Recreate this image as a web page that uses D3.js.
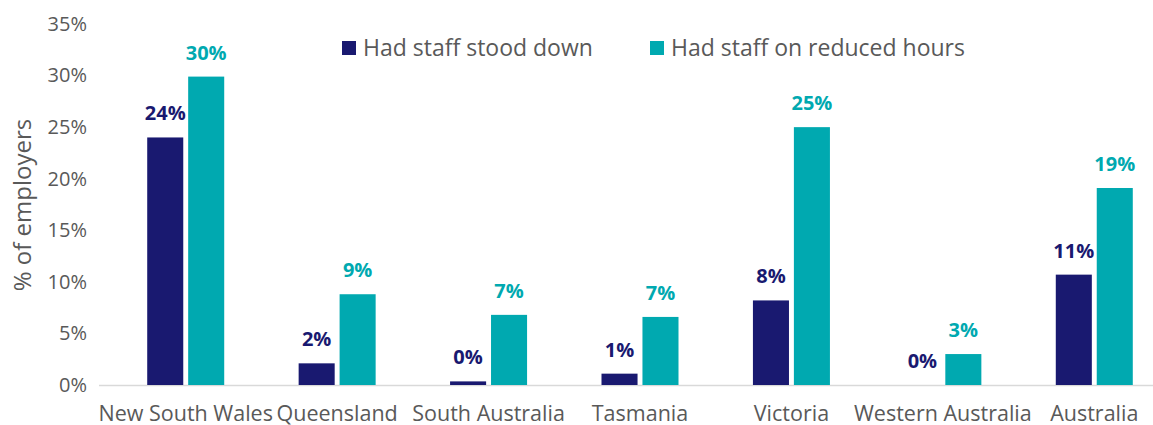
<!DOCTYPE html>
<html>
<head>
<meta charset="utf-8">
<script src="https://cdn.jsdelivr.net/npm/d3@7"></script>
<style>
	body { margin: 0; background: #fff; }
	svg { display: block; font-family: "Open Sans", sans-serif; }
</style>
</head>
<body>
<svg id="chart"></svg>
<script>
// categories and series (percent of employers)
var categories = ['New South Wales', 'Queensland', 'South Australia', 'Tasmania', 'Victoria', 'Western Australia', 'Australia'];
var stoodDown = [24.0, 2.1, 0.35, 1.1, 8.2, 0, 10.7];
var reducedHours = [29.9, 8.8, 6.8, 6.6, 25.0, 3.0, 19.1];
var seriesNames = ['Had staff stood down', 'Had staff on reduced hours'];
var yTicks = [0, 5, 10, 15, 20, 25, 30, 35];

var width = 1153, height = 425;
var colors = ['#191970', '#00a9b0'];
var textGray = '#595959';

var svg = d3.select('#chart')
	.attr('width', width)
	.attr('height', height);

var x = d3.scaleBand()
	.domain(categories)
	.range([110, 1170]);

var inner = d3.scaleBand()
	.domain([0, 1])
	.range([x.bandwidth() / 2 - 38.5, x.bandwidth() / 2 + 38.5])
	.paddingInner(0.12);

var y = d3.scaleLinear()
	.domain([0, 35])
	.range([385, 24]);

// y axis labels
var yAxis = svg.append('g')
	.attr('transform', 'translate(96,0)')
	.call(d3.axisLeft(y).tickValues(yTicks).tickSize(0).tickPadding(9).tickFormat(function (d) { return d + '%'; }));
yAxis.select('.domain').remove();
yAxis.selectAll('text')
	.attr('fill', textGray)
	.style('font-size', '20px')
	.style('font-family', '"Open Sans", sans-serif');

// baseline
svg.append('line')
	.attr('x1', 99)
	.attr('x2', width)
	.attr('y1', y(0) + 0.5)
	.attr('y2', y(0) + 0.5)
	.attr('stroke', '#d9d9d9')
	.attr('stroke-width', 1.5);

// x axis labels
var xAxis = svg.append('g')
	.attr('transform', 'translate(0,' + y(0) + ')')
	.call(d3.axisBottom(x).tickSize(0).tickPadding(21));
xAxis.select('.domain').remove();
xAxis.selectAll('text')
	.attr('fill', textGray)
	.style('font-size', '21.5px')
	.style('font-family', '"Open Sans", sans-serif');

// y title
svg.append('text')
	.attr('transform', 'translate(31,205) rotate(-90)')
	.attr('text-anchor', 'middle')
	.attr('fill', textGray)
	.style('font-size', '24px')
	.text('% of employers');

var rows = categories.map(function (c, i) {
	return { cat: c, values: [stoodDown[i], reducedHours[i]] };
});

var groups = svg.selectAll('g.cat')
	.data(rows)
	.enter()
	.append('g')
	.attr('class', 'cat')
	.attr('transform', function (d) { return 'translate(' + x(d.cat) + ',0)'; });

var items = groups.selectAll('g.item')
	.data(function (d) { return d.values.map(function (v, k) { return { v: v, k: k }; }); })
	.enter()
	.append('g')
	.attr('class', 'item');

items.append('rect')
	.attr('x', function (d) { return inner(d.k); })
	.attr('width', inner.bandwidth())
	.attr('y', function (d) { return y(d.v); })
	.attr('height', function (d) { return y(0) - y(d.v); })
	.attr('fill', function (d) { return colors[d.k]; });

items.append('text')
	.attr('x', function (d) { return inner(d.k) + inner.bandwidth() / 2; })
	.attr('y', function (d) { return y(d.v) - 17; })
	.attr('text-anchor', 'middle')
	.attr('fill', function (d) { return colors[d.k]; })
	.style('font-size', '20px')
	.style('font-weight', 'bold')
	.text(function (d) { return Math.round(d.v) + '%'; });

// legend
var legendX = [342, 650];
var legend = svg.selectAll('g.legend')
	.data(seriesNames)
	.enter()
	.append('g')
	.attr('class', 'legend')
	.attr('transform', function (d, i) { return 'translate(' + legendX[i] + ',41)'; });
legend.append('rect')
	.attr('width', 14)
	.attr('height', 14)
	.attr('fill', function (d, i) { return colors[i]; });
legend.append('text')
	.attr('x', 21)
	.attr('y', 15)
	.attr('fill', textGray)
	.style('font-size', '23px')
	.text(function (d) { return d; });
</script>
</body>
</html>
